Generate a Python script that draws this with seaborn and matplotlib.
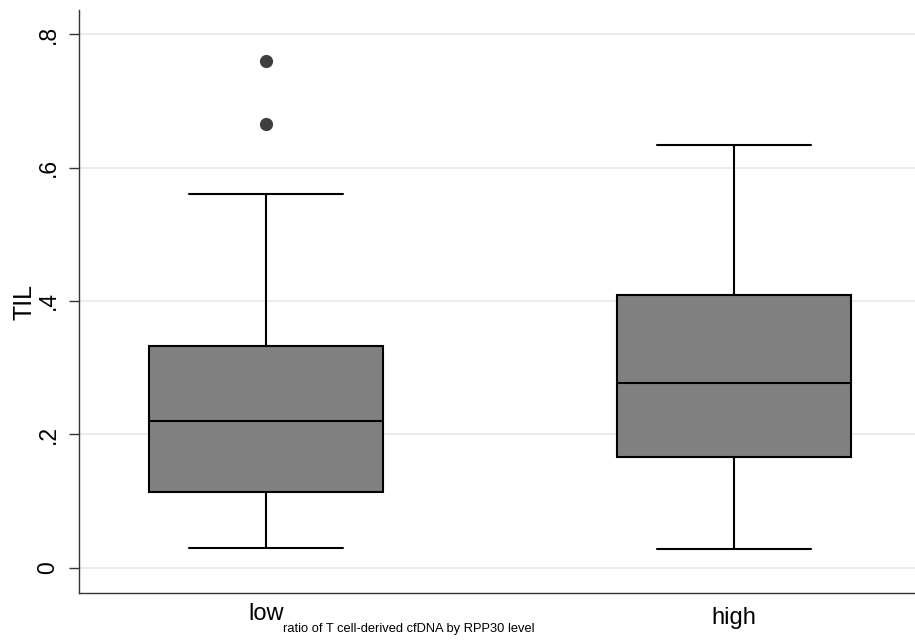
import matplotlib
matplotlib.use("Agg")
import matplotlib.pyplot as plt
import matplotlib.transforms as mtransforms
from matplotlib import font_manager
import seaborn as sns
import pandas as pd

# Five-number summaries of TIL by group (lower whisker, Q1, median, Q3, upper whisker)
groups = ["low", "high"]
low_summary = [0.030, 0.114, 0.220, 0.333, 0.560]
high_summary = [0.029, 0.166, 0.277, 0.409, 0.634]
# Outside values
outlier_group = ["low", "low"]
outlier_til = [0.665, 0.759]

yticks = [0, 0.2, 0.4, 0.6, 0.8]
ytick_labels = ["0", ".2", ".4", ".6", ".8"]

sns.set_theme(style="white")
plt.rcParams["font.family"] = ["Liberation Sans", "DejaVu Sans"]
plt.rcParams["text.color"] = "black"
plt.rcParams["axes.labelcolor"] = "black"
plt.rcParams["xtick.color"] = "black"
plt.rcParams["ytick.color"] = "black"

# Narrow face for the axis title when available
installed = {f.name for f in font_manager.fontManager.ttflist}
if "Liberation Sans Narrow" in installed:
    title_family, title_size = ["Liberation Sans Narrow"], 11.3
else:
    title_family, title_size = ["Liberation Sans"], 9.3

box_df = pd.DataFrame({
    "group": ["low"] * len(low_summary) + ["high"] * len(high_summary),
    "TIL": low_summary + high_summary,
})
out_df = pd.DataFrame({"group": outlier_group, "TIL": outlier_til})

fig = plt.figure(figsize=(9.15, 6.42), dpi=100)
ax = fig.add_axes([79 / 915, 1 - 593 / 642, 1 - 79 / 915, (593 - 10) / 642])

ax.grid(axis="y", color="#eaeaea", linewidth=1.3, zorder=0)
ax.set_axisbelow(True)

sns.boxplot(
    data=box_df, x="group", y="TIL", order=groups, ax=ax,
    color="#808080", saturation=1, width=0.5, whis=1.5,
    linecolor="black", linewidth=1.5, showfliers=False,
    capwidths=0.33,
)
sns.stripplot(
    data=out_df, x="group", y="TIL", order=groups, ax=ax,
    jitter=False, color="#3f3f3f", size=9.5, linewidth=0, zorder=5,
)

ax.set_xlim(-0.4, 1.387)
ax.set_ylim(-0.0375, 0.836)
ax.set_yticks(yticks)
ax.set_yticklabels(ytick_labels, rotation=90, va="center", fontsize=16.5)
ax.tick_params(axis="y", direction="out", length=7, width=1.0, color="#333333",
               left=True, pad=7)
ax.tick_params(axis="x", length=0, pad=7, labelsize=17)

for lbl in ax.get_xticklabels():
    if lbl.get_text() == "high":
        lbl.set_transform(lbl.get_transform() +
                          mtransforms.ScaledTranslation(0, -4 / 100, fig.dpi_scale_trans))

ax.set_ylabel("TIL", fontsize=18, labelpad=0)
ax.set_xlabel("ratio of T cell-derived cfDNA by RPP30 level",
              fontsize=title_size, family=title_family)
ax.xaxis.set_label_coords((409 - 79) / (915 - 79), -0.052)
ax.xaxis.label.set_va("top")

sns.despine(ax=ax, top=True, right=True)
for side in ["left", "bottom"]:
    ax.spines[side].set_color("#333333")
    ax.spines[side].set_linewidth(1.0)

fig.savefig("out.png", dpi=100)
